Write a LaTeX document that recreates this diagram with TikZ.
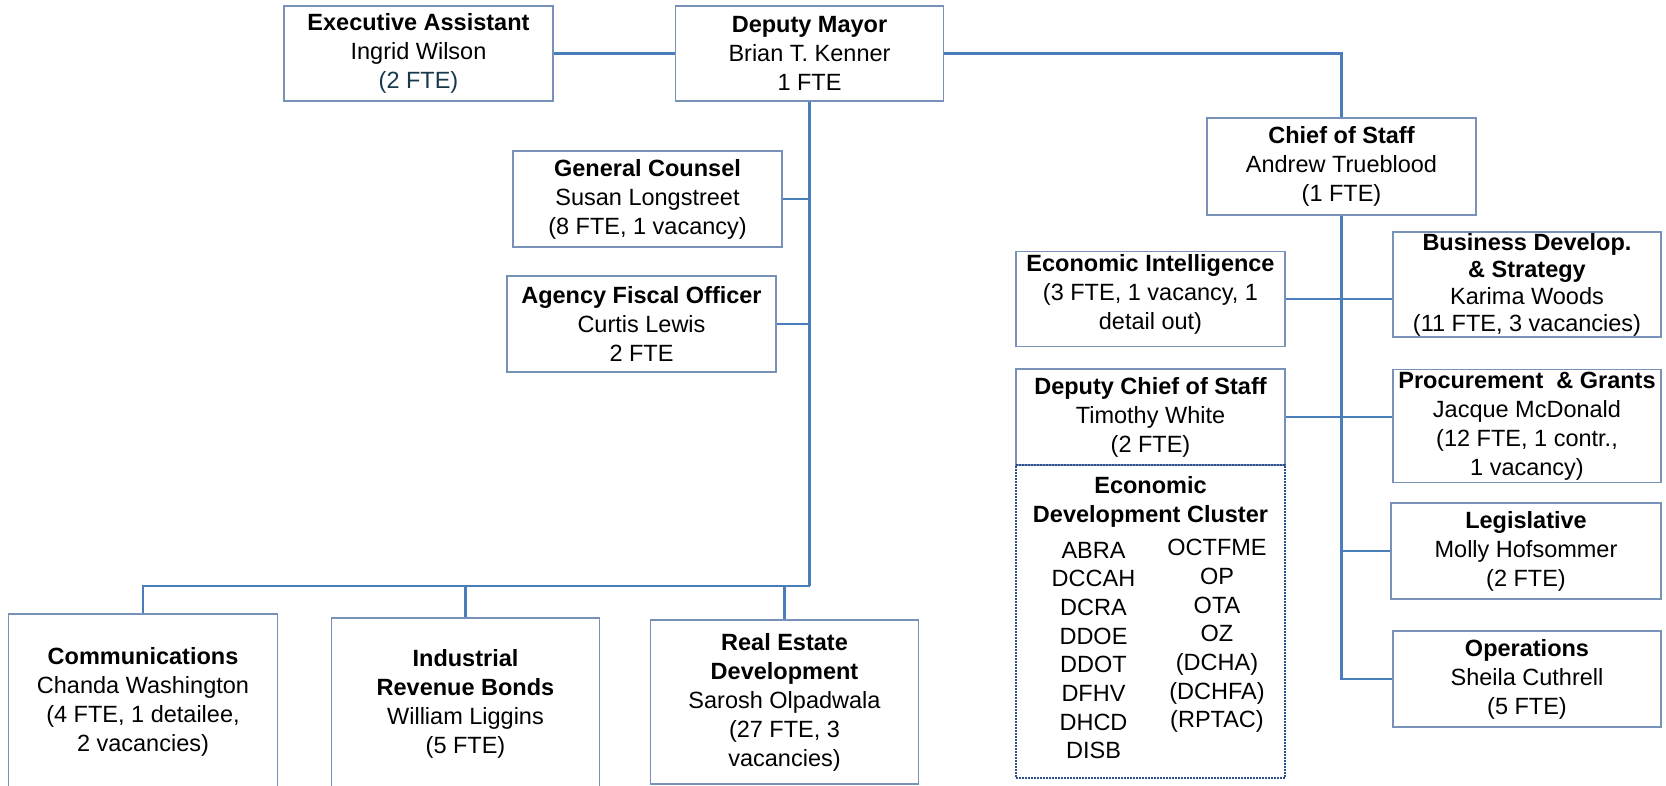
\documentclass[tikz,border=0pt]{standalone}
\usepackage{fontspec}
\setmainfont{Liberation Sans}
\definecolor{linec}{RGB}{74,126,187}
\definecolor{boxc}{RGB}{120,145,185}
\definecolor{clusc}{RGB}{45,80,140}
\definecolor{ftec}{RGB}{22,58,76}
\newcommand\fs{\fontsize{23.5}{29}\selectfont}
\begin{document}
\begin{tikzpicture}[x=1pt,y=-1pt,
  box/.style={draw=boxc, line width=1.3pt, minimum width=269pt, align=center, inner sep=2pt, font=\fs},
  tdown/.style={execute at begin node={\rule{0pt}{27pt}}},
  tup/.style={execute at end node={\rule[-15pt]{0pt}{0pt}}},
  txt/.style={align=center, inner sep=0pt, font=\fs},
  conn/.style={draw=linec, line width=2.4pt},
  clusbox/.style={draw=clusc, line width=1.1pt, dash pattern=on 1.6pt off 1.4pt, minimum width=269pt}
]
\useasboundingbox (0,0) rectangle (1666,785);
% top row
\node[box, tdown, minimum height=95pt] (exec) at (418.5,53.5) {\textbf{Executive Assistant}\\Ingrid Wilson\\\textcolor{ftec}{(2 FTE)}};
\node[box, tdown, minimum width=268pt, minimum height=95pt] (dm) at (809.5,53.5) {\textbf{Deputy Mayor}\\Brian T. Kenner\\1 FTE};
\node[box, tdown, minimum height=97pt] (cos) at (1341.5,166.5) {\textbf{Chief of Staff}\\Andrew Trueblood\\(1 FTE)};
% left staff
\node[box, minimum height=96pt] (gc) at (647.5,199) {\textbf{General Counsel}\\Susan Longstreet\\(8 FTE, 1 vacancy)};
\node[box, minimum height=96pt] (afo) at (641.5,324) {\textbf{Agency Fiscal Officer}\\Curtis Lewis\\2 FTE};
% bottom row
\node[box, minimum height=176pt] (comm) at (143,702) {\textbf{Communications}\\Chanda Washington\\(4 FTE, 1 detailee,\\2 vacancies)};
\node[box, minimum width=268pt, minimum height=172pt] (irb) at (465.5,704) {\textbf{Industrial}\\\textbf{Revenue Bonds}\\William Liggins\\(5 FTE)};
\node[box, minimum width=268pt, minimum height=164pt] (re) at (784.5,702) {\textbf{Real Estate}\\\textbf{Development}\\Sarosh Olpadwala\\(27 FTE, 3\\vacancies)};
% right side
\node[box, tup, minimum height=95pt] (ei) at (1150.5,299) {\textbf{Economic Intelligence}\\(3 FTE, 1 vacancy, 1\\detail out)};
\node[box, minimum width=268pt, minimum height=105pt, inner ysep=0pt, font=\fontsize{23.5}{27}\selectfont] (bd) at (1527,284.5) {\textbf{Business Develop.}\\\textbf{\& Strategy}\\Karima Woods\\(11 FTE, 3 vacancies)};
\node[box, minimum height=96pt] (dcos) at (1150.5,417) {\textbf{Deputy Chief of Staff}\\Timothy White\\(2 FTE)};
\node[box, minimum width=268pt, minimum height=113pt] (proc) at (1527,426) {\textbf{Procurement\ \ \& Grants}\\Jacque McDonald\\(12 FTE, 1 contr.,\\1 vacancy)};
\node[box, minimum width=270pt, minimum height=96pt] (leg) at (1526,551) {\textbf{Legislative}\\Molly Hofsommer\\(2 FTE)};
\node[box, minimum width=268pt, minimum height=96pt] (ops) at (1527,679) {\textbf{Operations}\\Sheila Cuthrell\\(5 FTE)};
% cluster
\node[clusbox, minimum height=313pt] (clus) at (1150.5,621.5) {};
\node[txt] (clustitle) at (1150.5,502) {\textbf{Economic}\\\textbf{Development Cluster}};
\node[txt, font=\fontsize{23.5}{28.7}\selectfont] (colL) at (1093.5,650.5) {ABRA\\DCCAH\\DCRA\\DDOE\\DDOT\\DFHV\\DHCD\\DISB};
\node[txt, font=\fontsize{23.5}{28.7}\selectfont] (colR) at (1217,636) {OCTFME\\OP\\OTA\\OZ\\(DCHA)\\(DCHFA)\\(RPTAC)};
% connectors
\coordinate (bus) at (809.5,586);
\draw[conn] (exec.east) -- (dm.west);
\draw[conn] (dm.east) -| (cos.north);
\draw[conn] (dm.south) -- (bus);
\draw[conn] (gc.east) -- (gc.east -| dm.south);
\draw[conn] (afo.east) -- (afo.east -| dm.south);
\draw[conn] (bus) -| (comm.north);
\draw[conn] (bus) -| (irb.north);
\draw[conn] (bus) -| (re.north);
\draw[conn] (cos.south) |- (ops.west);
\draw[conn] (cos.south) |- (leg.west);
\draw[conn] (ei.east) -- (ei.east -| bd.west);
\draw[conn] (dcos.east) -- (dcos.east -| proc.west);
\end{tikzpicture}
\end{document}
